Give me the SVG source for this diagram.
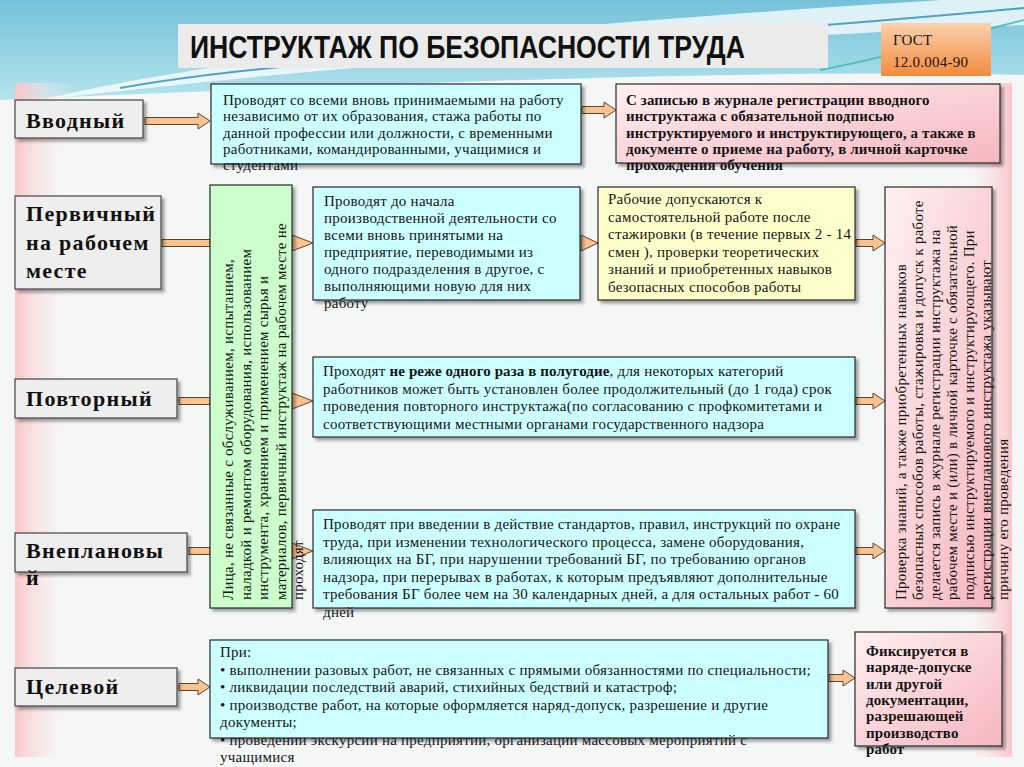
<svg xmlns="http://www.w3.org/2000/svg" width="1024" height="767" viewBox="0 0 1024 767">
<defs>
<style>
.box{stroke:#2a2a2a;stroke-width:1.2}
.cy{fill:#CCFFFF}
.lb{fill:#EEEEEE;stroke:#444;stroke-width:1.2}
.t{font-family:"Liberation Serif",serif;font-size:15px;fill:#151515;letter-spacing:0.25px}
.b{font-weight:bold;letter-spacing:0.1px}
.lbl{font-family:"Liberation Serif",serif;font-size:22px;font-weight:bold;letter-spacing:1.3px;fill:#111}
.arr{fill:#F9C28E;stroke:#5a4636;stroke-width:1}
</style>
<linearGradient id="sky" x1="0" y1="0" x2="0" y2="1">
<stop offset="0" stop-color="#74C2DA"/><stop offset="1" stop-color="#B5E3EE"/>
</linearGradient>
<linearGradient id="pinkStrip" x1="0" y1="0" x2="1" y2="0">
<stop offset="0" stop-color="#F9C6CA"/><stop offset="1" stop-color="#FBF5F5" stop-opacity="0"/>
</linearGradient>
<linearGradient id="pinkStripR" x1="0" y1="0" x2="1" y2="0">
<stop offset="0" stop-color="#FBF5F5" stop-opacity="0"/><stop offset="1" stop-color="#F9C6CA"/>
</linearGradient>
<linearGradient id="pink" x1="0" y1="0" x2="1" y2="1">
<stop offset="0" stop-color="#FFF0F1"/><stop offset="1" stop-color="#F5B6BE"/>
</linearGradient>
<linearGradient id="orange" x1="0" y1="0" x2="0" y2="1">
<stop offset="0" stop-color="#FAD2AE"/><stop offset="1" stop-color="#F38A3C"/>
</linearGradient>
<filter id="sh" x="-10%" y="-10%" width="130%" height="130%">
<feDropShadow dx="3" dy="3" stdDeviation="1.5" flood-color="#000" flood-opacity="0.35"/>
</filter>
</defs>

<!-- background -->
<rect width="1024" height="767" fill="#F5F7F7"/>
<path d="M0,0 H1024 V75 C800,70 500,78 0,100 Z" fill="url(#sky)"/>
<path d="M40,100 C250,50 600,20 1024,-5 L1024,25 C700,40 380,60 40,100 Z" fill="#FFFFFF" opacity="0.75"/>
<path d="M120,88 C300,55 600,48 1024,8" fill="none" stroke="#2C8DB8" stroke-width="2" opacity="0.8"/>
<path d="M820,70 C900,55 960,35 1024,20" fill="none" stroke="#3BB7B0" stroke-width="2" opacity="0.8"/>
<path d="M0,104 C300,84 700,78 1024,76 V767 H0 Z" fill="#F5F7F7"/>
<rect x="15" y="83" width="58" height="674" fill="url(#pinkStrip)"/>
<rect x="960" y="83" width="52" height="674" fill="url(#pinkStripR)"/>

<!-- title -->
<g id="title">
<rect x="178" y="24" width="650" height="44" fill="#EBEBEB"/>
<text x="190" y="58" font-family="Liberation Sans, sans-serif" font-size="32" font-weight="bold" fill="#111" textLength="555" lengthAdjust="spacingAndGlyphs">ИНСТРУКТАЖ ПО БЕЗОПАСНОСТИ ТРУДА</text>
</g>
<g id="gost">
<rect x="881" y="23" width="110" height="53" fill="url(#orange)"/>
<text class="t" x="893" y="45" font-size="15" fill="#222">ГОСТ</text>
<text class="t" x="893" y="67" font-size="15" fill="#222">12.0.004-90</text>
</g>

<!-- connectors -->
<g id="connectors">
<path class="arr" d="M145,117.5 H198 V113 L210,121 L198,129 V124.5 H145 Z"/>
<rect class="arr" x="162" y="239.5" width="48" height="7"/>
<rect class="arr" x="179" y="397.5" width="31" height="7"/>
<rect class="arr" x="189" y="547.5" width="21" height="7"/>
<path class="arr" d="M179,683.5 H198 V679 L210,687 L198,695 V690.5 H179 Z"/>
<path class="arr" d="M292,235 L313,243 L292,251 Z"/>
<path class="arr" d="M292,393 L313,401 L292,409 Z"/>
<path class="arr" d="M292,543 L313,551 L292,559 Z"/>
<path class="arr" d="M582,106.5 H604 V102 L616,110 L604,118 V113.5 H582 Z"/>
<path class="arr" d="M581,235 L598,243 L581,251 Z"/>
<path class="arr" d="M856,239.5 H873 V235 L885,243 L873,251 V246.5 H856 Z"/>
<path class="arr" d="M856,397.5 H873 V393 L885,401 L873,409 V404.5 H856 Z"/>
<path class="arr" d="M856,547.5 H873 V543 L885,551 L873,559 V554.5 H856 Z"/>
<path class="arr" d="M829,674.5 H843 V670 L855,678 L843,686 V681.5 H829 Z"/>
</g>

<!-- left labels -->
<g id="lbl-vvodny">
<rect class="lb" x="15" y="100" width="128" height="38" filter="url(#sh)"/>
<text class="lbl" x="26" y="128">Вводный</text>
</g>
<g id="lbl-pervichny">
<rect class="lb" x="15" y="196" width="146" height="93" filter="url(#sh)"/>
<text class="lbl" x="26" y="221" letter-spacing="0.5">Первичный</text>
<text class="lbl" x="26" y="250" letter-spacing="0.5">на рабочем</text>
<text class="lbl" x="26" y="278" letter-spacing="0.5">месте</text>
</g>
<g id="lbl-povtorny">
<rect class="lb" x="15" y="379" width="162" height="39" filter="url(#sh)"/>
<text class="lbl" x="26" y="406">Повторный</text>
</g>
<g id="lbl-vneplanovy">
<rect class="lb" x="15" y="533" width="172" height="39" filter="url(#sh)"/>
<text class="lbl" x="26" y="558">Внеплановы</text>
<text class="lbl" x="26" y="585">й</text>
</g>
<g id="lbl-celevoy">
<rect class="lb" x="15" y="668" width="162" height="38" filter="url(#sh)"/>
<text class="lbl" x="26" y="694">Целевой</text>
</g>

<!-- vvodny description -->
<g id="box-vvodny">
<rect class="box cy" x="211" y="84" width="370" height="80" filter="url(#sh)"/>
<text class="t">
<tspan x="223" y="105">Проводят со всеми вновь принимаемыми на работу</tspan>
<tspan x="223" y="121.3">независимо от их образования, стажа работы по</tspan>
<tspan x="223" y="137.6">данной профессии или должности, с временными</tspan>
<tspan x="223" y="154">работниками, командированными, учащимися и</tspan>
<tspan x="223" y="170.3">студентами</tspan>
</text>
</g>
<g id="box-zapis">
<rect class="box" fill="url(#pink)" x="616" y="84" width="384" height="79" filter="url(#sh)"/>
<text class="t b">
<tspan x="626" y="105">С записью в журнале регистрации вводного</tspan>
<tspan x="626" y="121.3">инструктажа с обязательной подписью</tspan>
<tspan x="626" y="137.6">инструктируемого и инструктирующего, а также в</tspan>
<tspan x="626" y="154">документе о приеме на работу, в личной карточке</tspan>
<tspan x="626" y="170.3">прохождения обучения</tspan>
</text>
</g>

<!-- green vertical box -->
<g id="box-lica">
<rect class="box" fill="#CCFFCC" x="210" y="185" width="82" height="423" filter="url(#sh)"/>
<text class="t" transform="translate(233,600) rotate(-90)">Лица, не связанные с обслуживанием, испытанием,</text>
<text class="t" transform="translate(250.5,600) rotate(-90)">наладкой и ремонтом оборудования, использованием</text>
<text class="t" transform="translate(268,600) rotate(-90)">инструмента, хранением и применением сырья и</text>
<text class="t" transform="translate(285.5,600) rotate(-90)">материалов, первичный инструктаж на рабочем месте не</text>
<text class="t" transform="translate(303,600) rotate(-90)">проходят</text>
</g>

<g id="box-pervichny">
<rect class="box cy" x="313" y="187" width="267" height="113" filter="url(#sh)"/>
<text class="t">
<tspan x="324" y="206">Проводят до начала</tspan>
<tspan x="324" y="223">производственной деятельности со</tspan>
<tspan x="324" y="240">всеми вновь принятыми на</tspan>
<tspan x="324" y="257">предприятие, переводимыми из</tspan>
<tspan x="324" y="274">одного подразделения в другое, с</tspan>
<tspan x="324" y="291">выполняющими новую для них</tspan>
<tspan x="324" y="308">работу</tspan>
</text>
</g>

<g id="box-dopusk">
<rect class="box" fill="#FFFFCC" x="598" y="187" width="257" height="113" filter="url(#sh)"/>
<text class="t">
<tspan x="608" y="204">Рабочие допускаются к</tspan>
<tspan x="608" y="221.5">самостоятельной работе после</tspan>
<tspan x="608" y="239">стажировки (в течение первых 2 - 14</tspan>
<tspan x="608" y="256.5">смен ), проверки теоретических</tspan>
<tspan x="608" y="274">знаний и приобретенных навыков</tspan>
<tspan x="608" y="291.5">безопасных способов работы</tspan>
</text>
</g>

<g id="box-proverka">
<rect class="box" fill="url(#pink)" x="885" y="187" width="107" height="421" filter="url(#sh)"/>
<text class="t" transform="translate(906,600) rotate(-90)">Проверка знаний, а также приобретенных навыков</text>
<text class="t" transform="translate(923,600) rotate(-90)">безопасных способов работы, стажировка и допуск к работе</text>
<text class="t" transform="translate(940,600) rotate(-90)">делается запись в журнале регистрации инструктажа на</text>
<text class="t" transform="translate(957,600) rotate(-90)">рабочем месте и (или) в личной карточке с обязательной</text>
<text class="t" transform="translate(974,600) rotate(-90)">подписью инструктируемого и инструктирующего. При</text>
<text class="t" transform="translate(991,600) rotate(-90)">регистрации внепланового инструктажа указывают</text>
<text class="t" transform="translate(1008,600) rotate(-90)">причину его проведения</text>
</g>

<g id="box-povtorny">
<rect class="box cy" x="313" y="357" width="542" height="80" filter="url(#sh)"/>
<text class="t">
<tspan x="323" y="376">Проходят <tspan class="b">не реже одного раза в полугодие</tspan>, для некоторых категорий</tspan>
<tspan x="323" y="393.5">работников может быть установлен более продолжительный (до 1 года) срок</tspan>
<tspan x="323" y="411">проведения повторного инструктажа(по согласованию с профкомитетами и</tspan>
<tspan x="323" y="428.5">соответствующими местными органами государственного надзора</tspan>
</text>
</g>

<g id="box-vneplanovy">
<rect class="box cy" x="313" y="510" width="542" height="98" filter="url(#sh)"/>
<text class="t">
<tspan x="323" y="529">Проводят при введении в действие стандартов, правил, инструкций по охране</tspan>
<tspan x="323" y="546.5">труда, при изменении технологического процесса, замене оборудования,</tspan>
<tspan x="323" y="564">влияющих на БГ, при нарушении требований БГ, по требованию органов</tspan>
<tspan x="323" y="581.5">надзора, при перерывах в работах, к которым предъявляют дополнительные</tspan>
<tspan x="323" y="599">требования БГ более чем на 30 календарных дней, а для остальных работ - 60</tspan>
<tspan x="323" y="616.5">дней</tspan>
</text>
</g>

<g id="box-celevoy">
<rect class="box cy" x="210" y="640" width="618" height="98" filter="url(#sh)"/>
<text class="t">
<tspan x="220" y="657">При:</tspan>
<tspan x="220" y="674.5">• выполнении разовых работ, не связанных с прямыми обязанностями по специальности;</tspan>
<tspan x="220" y="692">• ликвидации последствий аварий, стихийных бедствий и катастроф;</tspan>
<tspan x="220" y="709.5">• производстве работ, на которые оформляется наряд-допуск, разрешение и другие</tspan>
<tspan x="220" y="727">документы;</tspan>
<tspan x="220" y="744.5">• проведении экскурсии на предприятии, организации массовых мероприятий с</tspan>
<tspan x="220" y="762">учащимися</tspan>
</text>
</g>

<g id="box-fiks">
<rect class="box" fill="url(#pink)" x="855" y="632" width="147" height="114" filter="url(#sh)"/>
<text class="t b">
<tspan x="866" y="656">Фиксируется  в</tspan>
<tspan x="866" y="672.3">наряде-допуске</tspan>
<tspan x="866" y="688.6">или другой</tspan>
<tspan x="866" y="705">документации,</tspan>
<tspan x="866" y="721.3">разрешающей</tspan>
<tspan x="866" y="737.6">производство</tspan>
<tspan x="866" y="754">работ</tspan>
</text>
</g>
</svg>
